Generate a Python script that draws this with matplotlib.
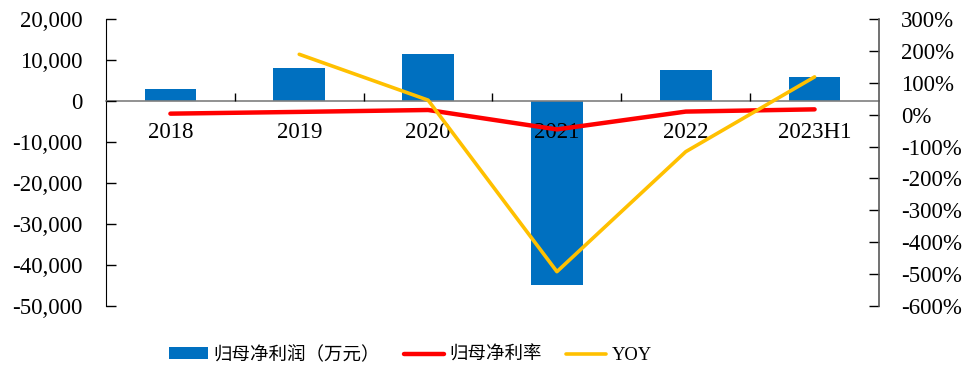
import matplotlib
matplotlib.use("Agg")
import matplotlib.pyplot as plt
from matplotlib.ticker import FuncFormatter, FixedLocator, NullFormatter

plt.rcParams['font.family'] = ['Liberation Serif', 'Noto Sans CJK SC', 'DejaVu Sans']

categories = ['2018', '2019', '2020', '2021', '2022', '2023H1']
net_profit = [2850, 8050, 11500, -44900, 7500, 5900]          # 万元
net_margin = [3.5, 9.0, 15.0, -46.0, 10.0, 17.0]              # %
yoy = [None, 190.0, 46.0, -493.0, -116.0, 119.0]              # %

blue = '#0070C0'
red = '#FF0000'
gold = '#FFC000'

fig = plt.figure(figsize=(9.77, 3.69), dpi=100)
ax = fig.add_axes([106 / 977, 1 - 305.7 / 369, (879 - 106) / 977, (305.7 - 19.3) / 369])
x = list(range(len(categories)))

ax.bar(x, net_profit, width=0.4, color=blue, zorder=2, label='归母净利润（万元）')
ax.set_xlim(-0.5, len(categories) - 0.5)
ax.set_ylim(-50000, 20000)
ax.set_yticks(range(-50000, 20001, 10000))
ax.yaxis.set_major_formatter(FuncFormatter(lambda v, p: f'{int(v):,}'))
ax.set_axisbelow(False)

# x axis drawn along zero, with boundary ticks between categories
ax.spines['bottom'].set_position(('data', 0))
ax.spines['bottom'].set_color('#7f7f7f')
ax.spines['bottom'].set_linewidth(1.2)
ax.spines['top'].set_visible(False)
ax.spines['right'].set_visible(False)
ax.spines['left'].set_color('#000000')
ax.set_xticks(x)
ax.set_xticklabels(categories)
ax.tick_params(axis='x', which='major', length=0, pad=15, labelsize=16.5)
ax.xaxis.set_minor_locator(FixedLocator([i + 0.5 for i in range(len(categories) - 1)]))
ax.xaxis.set_minor_formatter(NullFormatter())
ax.tick_params(axis='x', which='minor', direction='in', length=6, width=1, color='#000000')
ax.tick_params(axis='y', direction='in', length=7, width=1, pad=17, labelsize=16.5)

ax2 = ax.twinx()
ax2.plot(x, net_margin, color=red, lw=3.2, solid_capstyle='round', zorder=3, label='归母净利率')
ax2.plot(x[1:], yoy[1:], color=gold, lw=2.6, solid_capstyle='round', zorder=3, label='YOY')
ax2.set_ylim(-600, 300)
ax2.set_yticks(range(-600, 301, 100))
ax2.yaxis.set_major_formatter(FuncFormatter(lambda v, p: f'{int(v)}%'))
ax2.tick_params(axis='y', direction='in', length=7, width=1, pad=16, labelsize=16.5)
for s in ['top', 'left', 'bottom']:
    ax2.spines[s].set_visible(False)
ax2.spines['right'].set_color('#595959')
ax2.spines['right'].set_linewidth(1.2)

h1, l1 = ax.get_legend_handles_labels()
h2, l2 = ax2.get_legend_handles_labels()
fig.legend(h1 + h2, l1 + l2, loc='center', bbox_to_anchor=(410 / 977, 1 - 355 / 369),
           ncol=3, frameon=False, fontsize=13.3, handlelength=2.15, handleheight=0.6,
           columnspacing=1.3, handletextpad=0.3)

fig.savefig('out.png', dpi=100)
